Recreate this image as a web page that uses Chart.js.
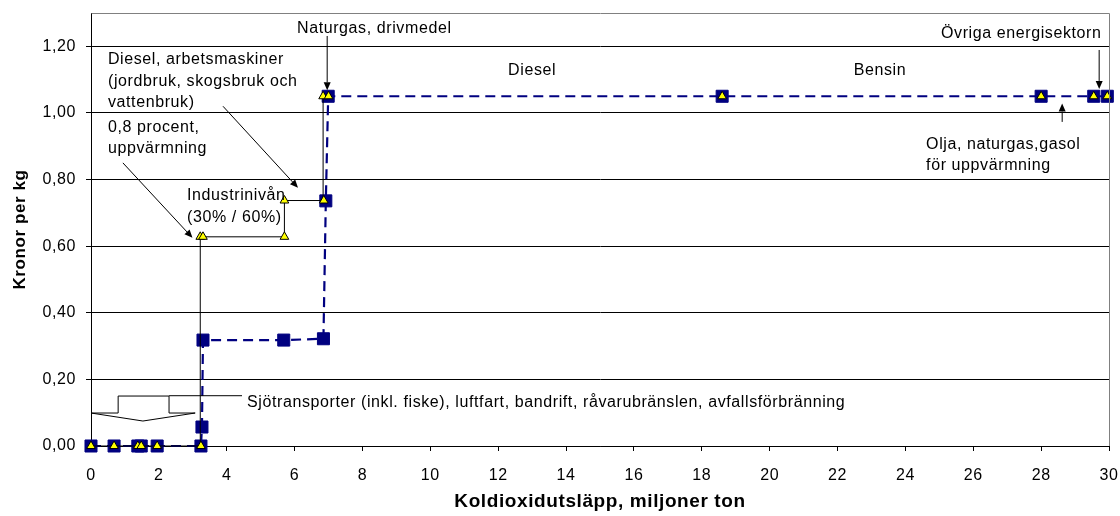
<!DOCTYPE html>
<html>
<head>
<meta charset="utf-8">
<title>Koldioxidskatt</title>
<script src="https://cdn.jsdelivr.net/npm/chart.js@4.4.1/dist/chart.umd.min.js"></script>
<style>
  html, body { margin: 0; padding: 0; background: #fff; }
</style>
</head>
<body>
<canvas id="co2Chart" width="1120" height="516"></canvas>
<script>
// Koldioxidskatt, kronor per kg mot utsläpp (miljoner ton)

// serie med blå kvadrater (streckad)
var squareX = [0, 0.68, 1.38, 1.48, 1.95, 3.24, 3.27, 3.3, 5.68, 6.85, 6.92, 6.99, 18.6, 28.0, 29.55, 29.95];
var squareY = [0, 0, 0, 0, 0, 0, 0.057, 0.318, 0.318, 0.322, 0.736, 1.05, 1.05, 1.05, 1.05, 1.05];

// serie med gula trianglar (heldragen)
var triangleX = [0, 0.68, 1.38, 1.48, 1.95, 3.24, 3.22, 3.3, 5.7, 5.7, 6.86, 6.84, 7.0, 18.6, 28.0, 29.55, 29.95];
var triangleY = [0, 0, 0, 0, 0, 0, 0.628, 0.628, 0.628, 0.737, 0.737, 1.05, 1.05, 1.05, 1.05, 1.05, 1.05];

var xTicks = [0, 2, 4, 6, 8, 10, 12, 14, 16, 18, 20, 22, 24, 26, 28, 30];
var yTicks = [0, 0.2, 0.4, 0.6, 0.8, 1.0, 1.2];

function toPoints(xs, ys) {
    return xs.map(function(x, i) { return { x: x, y: ys[i] }; });
}

var FONT = "'Liberation Sans', Arial, sans-serif";

// texter och pilar, placerade i datakoordinater
var notes = [
    { lines: ['Naturgas, drivmedel'], x: 6.07, y: 1.258, align: 'left' },
    { lines: ['Diesel, arbetsmaskiner', '(jordbruk, skogsbruk och', 'vattenbruk)'], x: 0.5, y: 1.165, align: 'left' },
    { lines: ['0,8 procent,', 'uppvärmning'], x: 0.5, y: 0.962, align: 'left' },
    { lines: ['Industrinivån', '(30% / 60%)'], x: 2.83, y: 0.757, align: 'left' },
    { lines: ['Diesel'], x: 13.0, y: 1.132, align: 'center' },
    { lines: ['Bensin'], x: 23.25, y: 1.132, align: 'center' },
    { lines: ['Övriga energisektorn'], x: 29.78, y: 1.243, align: 'right' },
    { lines: ['Olja, naturgas,gasol', 'för uppvärmning'], x: 24.61, y: 0.911, align: 'left' },
    { lines: ['Sjötransporter (inkl. fiske), luftfart, bandrift, råvarubränslen, avfallsförbränning'], x: 4.6, y: 0.137, align: 'left' }
];

var arrows = [
    { from: [6.96, 1.231], to: [6.96, 1.068] },
    { from: [3.89, 1.02], to: [6.1, 0.775] },
    { from: [0.94, 0.85], to: [2.99, 0.625] },
    { from: [29.71, 1.189], to: [29.71, 1.072] },
    { from: [28.62, 0.973], to: [28.62, 1.028] }
];

// blockpil nere till vänster och dess linje till texten
var blockArrow = [[0.8, 0.15], [2.3, 0.15], [2.3, 0.099], [3.07, 0.099], [1.53, 0.075], [0, 0.099], [0.8, 0.099]];
var blockLine = [[2.3, 0.151], [4.45, 0.151]];

var notesPlugin = {
    id: 'notes',
    beforeDraw: function(chart) {
        chart.ctx.letterSpacing = '0.6px';
    },
    afterDatasetsDraw: function(chart) {
        var ctx = chart.ctx;
        var xs = chart.scales.x, ys = chart.scales.y;
        var area = chart.chartArea;
        function px(v) { return xs.getPixelForValue(v); }
        function py(v) { return ys.getPixelForValue(v); }

        ctx.save();

        // ram runt diagrammet (topp och höger)
        ctx.strokeStyle = '#808080';
        ctx.lineWidth = 1;
        ctx.beginPath();
        ctx.moveTo(Math.round(area.left) + 0.5, Math.round(area.top) + 0.5);
        ctx.lineTo(Math.round(area.right) + 0.5, Math.round(area.top) + 0.5);
        ctx.lineTo(Math.round(area.right) + 0.5, Math.round(area.bottom));
        ctx.stroke();

        // blockpil
        ctx.strokeStyle = '#000';
        ctx.fillStyle = '#fff';
        ctx.beginPath();
        blockArrow.forEach(function(p, i) {
            if (i === 0) ctx.moveTo(px(p[0]), py(p[1]));
            else ctx.lineTo(px(p[0]), py(p[1]));
        });
        ctx.closePath();
        ctx.fill();
        ctx.stroke();
        ctx.beginPath();
        ctx.moveTo(px(blockLine[0][0]), py(blockLine[0][1]));
        ctx.lineTo(px(blockLine[1][0]), py(blockLine[1][1]));
        ctx.stroke();

        // pilar
        ctx.fillStyle = '#000';
        arrows.forEach(function(a) {
            var x1 = px(a.from[0]), y1 = py(a.from[1]);
            var x2 = px(a.to[0]), y2 = py(a.to[1]);
            var ang = Math.atan2(y2 - y1, x2 - x1);
            var len = 8, half = 3.5;
            ctx.beginPath();
            ctx.moveTo(x1, y1);
            ctx.lineTo(x2 - Math.cos(ang) * len, y2 - Math.sin(ang) * len);
            ctx.stroke();
            ctx.beginPath();
            ctx.moveTo(x2, y2);
            ctx.lineTo(x2 - Math.cos(ang) * len - Math.sin(ang) * half, y2 - Math.sin(ang) * len + Math.cos(ang) * half);
            ctx.lineTo(x2 - Math.cos(ang) * len + Math.sin(ang) * half, y2 - Math.sin(ang) * len - Math.cos(ang) * half);
            ctx.closePath();
            ctx.fill();
        });

        // texter
        ctx.font = '16px ' + FONT;
        ctx.textBaseline = 'middle';
        notes.forEach(function(n) {
            ctx.textAlign = n.align;
            n.lines.forEach(function(line, i) {
                ctx.fillText(line, px(n.x), py(n.y) + 2 + i * 21.5);
            });
        });

        ctx.restore();
    }
};

var ctx = document.getElementById('co2Chart').getContext('2d');

new Chart(ctx, {
    type: 'line',
    data: {
        datasets: [{
            label: 'Trianglar',
            data: toPoints(triangleX, triangleY),
            borderColor: '#000',
            borderWidth: 1,
            pointStyle: 'triangle',
            pointRadius: 5,
            pointBackgroundColor: '#ffff00',
            pointBorderColor: '#000',
            pointBorderWidth: 1,
            clip: false,
            segment: {
                // längs 1,05 syns bara den streckade linjen
                borderColor: function(c) { return c.p0.parsed.y > 1 && c.p1.parsed.y > 1 ? 'rgba(0,0,0,0)' : '#000'; }
            }
        }, {
            label: 'Kvadrater',
            data: toPoints(squareX, squareY),
            borderColor: '#000080',
            borderWidth: 2.2,
            borderDash: [10, 6],
            pointStyle: 'rect',
            pointRadius: 8.5,
            pointBackgroundColor: '#000080',
            pointBorderColor: '#000080',
            pointBorderWidth: 1,
            clip: false
        }]
    },
    options: {
        responsive: false,
        animation: false,
        layout: {
            padding: { top: 13, right: 11, bottom: 0, left: 0 },
            autoPadding: false
        },
        plugins: {
            legend: { display: false },
            tooltip: { enabled: false }
        },
        scales: {
            x: {
                type: 'linear',
                min: 0,
                max: 30,
                afterFit: function(scale) {
                    scale.height = 70;
                    scale.paddingLeft = 0;
                    scale.paddingRight = 0;
                },
                afterBuildTicks: function(scale) {
                    scale.ticks = xTicks.map(function(v) { return { value: v }; });
                },
                ticks: {
                    color: '#000',
                    font: { family: FONT, size: 16 },
                    padding: 15,
                    maxRotation: 0
                },
                grid: {
                    drawOnChartArea: false,
                    drawTicks: true,
                    tickLength: 5,
                    color: '#000'
                },
                border: { color: '#000' },
                title: {
                    display: true,
                    text: 'Koldioxidutsläpp, miljoner ton',
                    color: '#000',
                    font: { family: FONT, size: 19, weight: 'bold' },
                    padding: { top: 0, bottom: 3 }
                }
            },
            y: {
                min: 0,
                max: 1.3,
                afterFit: function(scale) {
                    scale.width = 91;
                    scale.paddingTop = 0;
                    scale.paddingBottom = 0;
                },
                afterBuildTicks: function(scale) {
                    scale.ticks = yTicks.map(function(v) { return { value: v }; });
                },
                ticks: {
                    color: '#000',
                    font: { family: FONT, size: 16 },
                    padding: 10,
                    callback: function(v) { return v.toFixed(2).replace('.', ','); }
                },
                grid: {
                    color: '#000',
                    lineWidth: 1,
                    tickLength: 5
                },
                border: { color: '#000' },
                title: {
                    display: true,
                    text: 'Kronor per kg',
                    color: '#000',
                    font: { family: FONT, size: 17, weight: 'bold' },
                    padding: { top: 10, bottom: 0 }
                }
            }
        }
    },
    plugins: [notesPlugin]
});
</script>
</body>
</html>
